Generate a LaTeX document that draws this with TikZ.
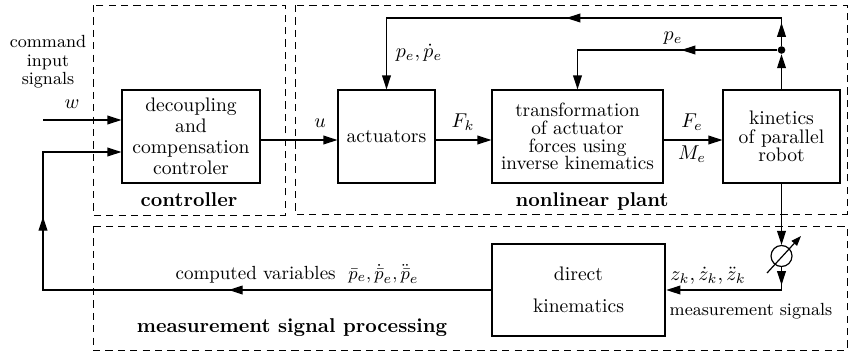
\documentclass[tikz,border=0pt]{standalone}
\usetikzlibrary{arrows.meta,decorations.markings}
\begin{document}
\begin{tikzpicture}[x=0.5pt,y=-0.5pt,
  >={Triangle[length=7pt,width=4.4pt]},
  blk/.style={draw, line width=0.6pt, inner sep=0pt, align=center},
  grp/.style={draw, dash pattern=on 3.6pt off 2.6pt, line width=0.5pt},
  conn/.style={line width=0.6pt, ->},
  midarr/.style={postaction={decorate, decoration={markings, mark=at position #1 with {\arrow{>}}}}},
  lbl/.style={inner sep=0pt, anchor=base},
  grplbl/.style={inner sep=0pt, anchor=base, font=\bfseries}
]
\useasboundingbox (0,0) rectangle (849,354);

% dashed groups
\draw[grp] (93,5) rectangle (285,215);
\draw[grp] (295,5) rectangle (847,214);
\draw[grp] (93,226) rectangle (847,350);

% blocks
\node[blk, minimum width=69pt, minimum height=46.5pt, font=\fontsize{9.8}{10.6}\selectfont] (dec) at (191,136.5)
  {decoupling\\and\\compensation\\controler};
\node[blk, minimum width=48.5pt, minimum height=46.5pt, font=\fontsize{9.8}{10.6}\selectfont] (act) at (386.5,136.5)
  {actuators};
\node[blk, minimum width=85.5pt, minimum height=46.5pt, font=\fontsize{9.6}{8.9}\selectfont] (trans) at (577.5,136.5)
  {transformation\\of actuator\\forces using\\inverse kinematics};
\node[blk, minimum width=58.5pt, minimum height=46.5pt, font=\fontsize{9.8}{9.1}\selectfont] (kin) at (781.5,136.5)
  {kinetics\\of parallel\\robot};
\node[blk, line width=1.3pt, minimum width=86.5pt, minimum height=46pt, font=\fontsize{9.8}{16}\selectfont] (dk) at (578.5,290)
  {direct\\kinematics};

% sensor and junction
\node[circle, draw, line width=0.6pt, minimum size=10.5pt, inner sep=0pt] (sens) at (781.5,256) {};
\coordinate (d1) at (767,273);
\coordinate (d2) at (801,236);
\draw[line width=0.6pt, -{Triangle[length=5pt,width=3.6pt]}] (d1) -- (d2);
\node[circle, fill, inner sep=0pt, minimum size=3.8pt] (dot) at (781.5,50) {};

% helper coordinates
\coordinate (sig) at (0,140);
\coordinate (top) at (0,18);
\coordinate (win) at (43,120);
\coordinate (fb) at (43,152);

% signal flow
\draw[conn] (win) -- (win -| dec.west);
\draw[conn] (dec.east |- sig) -- (act.west |- sig);
\draw[conn] (act.east |- sig) -- (trans.west |- sig);
\draw[conn] (trans.east |- sig) -- (kin.west |- sig);
\draw[conn] (kin.north) -- (dot);
\draw[conn, midarr=11.5pt, midarr=121.5pt] (dot) -- (dot |- top) -| (act.north);
\draw[conn, midarr=48pt] (dot) -| (trans.north);
\draw[conn] (kin.south) -- (sens.north);
\draw[conn, midarr=9pt] (sens.south) |- (dk.east);
\draw[conn, midarr=131pt, midarr=260.5pt] (dk.west) -| (fb) -- (fb -| dec.west);

% labels
\node[align=center, inner sep=0pt, font=\fontsize{8.8}{9.2}\selectfont] (cmd) at (48,62) {command\\input\\signals};
\node[lbl] (wl) at (72,108) {$w$};
\node[lbl] (ul) at (320,127) {$u$};
\node[lbl] (fkl) at (463,127) {$F_k$};
\node[lbl] (fel) at (692,127) {$F_e$};
\node[lbl] (mel) at (692,159) {$M_e$};
\node[lbl] (pel) at (673,40) {$p_e$};
\node[lbl] (ppl) at (419,57) {$p_e,\dot p_e$};
\node[lbl] (zl) at (708,280) {$z_k,\dot z_k,\ddot z_k$};
\node[lbl, font=\fontsize{8.8}{10}\selectfont] (msl) at (751,315) {measurement signals};
\node[lbl, font=\fontsize{9.5}{11}\selectfont] (cvl) at (297,279) {computed variables\ \ $\bar p_e,\dot{\bar p}_e,\ddot{\bar p}_e$};
\node[grplbl] (gc) at (189,206) {controller};
\node[grplbl] (gp) at (592,206) {nonlinear plant};
\node[grplbl] (gm) at (292,332) {measurement signal processing};
\end{tikzpicture}
\end{document}
